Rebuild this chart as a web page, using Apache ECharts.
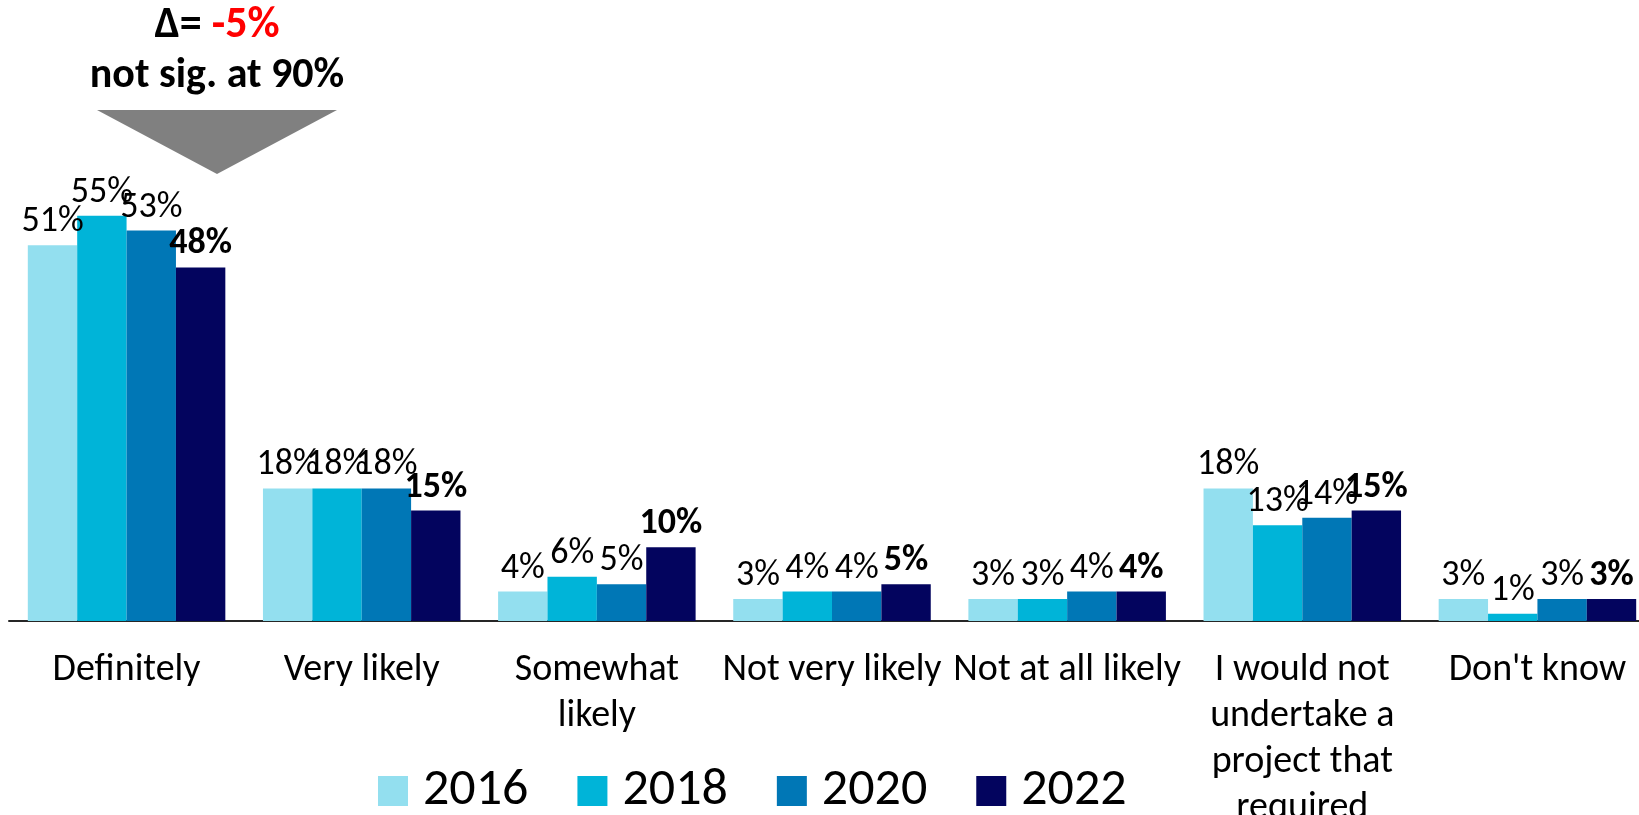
<!DOCTYPE html>
<html>
<head>
<meta charset="utf-8">
<script src="https://cdn.jsdelivr.net/npm/echarts@6/dist/echarts.min.js"></script>
<style>
  html, body { margin: 0; padding: 0; background: #ffffff; }
  #chart { width: 1639px; height: 815px; }
</style>
</head>
<body>
<div id="chart"></div>
<script>
// Answer categories (line breaks as shown under the axis)
const categories = [
  'Definitely',
  'Very likely',
  'Somewhat\nlikely',
  'Not very likely',
  'Not at all likely',
  'I would not\nundertake a\nproject that\nrequired',
  "Don't know"
];

// Survey years
const years = ['2016', '2018', '2020', '2022'];

// Share of respondents (%) per year
const values2016 = [51, 18, 4, 3, 3, 18, 3];
const values2018 = [55, 18, 6, 4, 3, 13, 1];
const values2020 = [53, 18, 5, 4, 4, 14, 3];
const values2022 = [48, 15, 10, 5, 4, 15, 3];

// Change callout for "Definitely"
const deltaText = '-5%';
const sigText = 'not sig. at 90%';

const colors = ['#93DFEF', '#00B4D8', '#0077B6', '#03045E'];
const FONT = 'Carlito, Calibri, Lato, sans-serif';

const seriesValues = [values2016, values2018, values2020, values2022];

const chart = echarts.init(document.getElementById('chart'), null, { renderer: 'canvas' });

const series = years.map((y, i) => ({
  name: y,
  type: 'bar',
  data: seriesValues[i],
  itemStyle: { color: colors[i] },
  barGap: '0%',
  barCategoryGap: '16%',
  label: {
    show: true,
    position: 'top',
    distance: 4,
    formatter: '{c}%',
    color: '#000000',
    fontFamily: FONT,
    fontSize: 36,
    lineHeight: 38,
    fontWeight: i === 3 ? 'bold' : 'normal'
  },
  emphasis: { disabled: true }
}));

chart.setOption({
  animation: false,
  color: colors,
  grid: {
    left: 9,
    top: 179,
    width: 1646,
    height: 442,
    containLabel: false,
    outerBoundsMode: 'none'
  },
  xAxis: {
    type: 'category',
    data: categories,
    axisLine: { show: true, lineStyle: { color: '#262626', width: 2 } },
    axisTick: { show: false },
    axisLabel: {
      interval: 0,
      margin: 26,
      color: '#000000',
      fontFamily: FONT,
      fontSize: 38,
      lineHeight: 46
    }
  },
  yAxis: {
    type: 'value',
    min: 0,
    max: 60,
    show: false,
    splitLine: { show: false }
  },
  legend: {
    data: years,
    left: 373,
    top: 760,
    itemWidth: 30,
    itemHeight: 30,
    itemGap: 49,
    icon: 'rect',
    textStyle: {
      fontFamily: FONT,
      fontSize: 52,
      lineHeight: 52,
      color: '#000000',
      padding: [0, 0, 0, 10]
    }
  },
  graphic: [
    {
      type: 'polygon',
      shape: { points: [[97, 110], [337, 110], [217, 174]] },
      style: { fill: '#808080' },
      silent: true
    },
    {
      type: 'text',
      x: 217,
      y: 26,
      style: {
        text: '{k|Δ= }{r|' + deltaText + '}',
        align: 'center',
        verticalAlign: 'middle',
        rich: {
          k: { fontFamily: FONT, fontSize: 44, fontWeight: 'bold', fill: '#000000' },
          r: { fontFamily: FONT, fontSize: 44, fontWeight: 'bold', fill: '#FF0000' }
        }
      },
      silent: true
    },
    {
      type: 'text',
      x: 217,
      y: 76,
      style: {
        text: sigText,
        align: 'center',
        verticalAlign: 'middle',
        fontFamily: FONT,
        fontSize: 42,
        fontWeight: 'bold',
        fill: '#000000'
      },
      silent: true
    }
  ],
  series: series
});
</script>
</body>
</html>
